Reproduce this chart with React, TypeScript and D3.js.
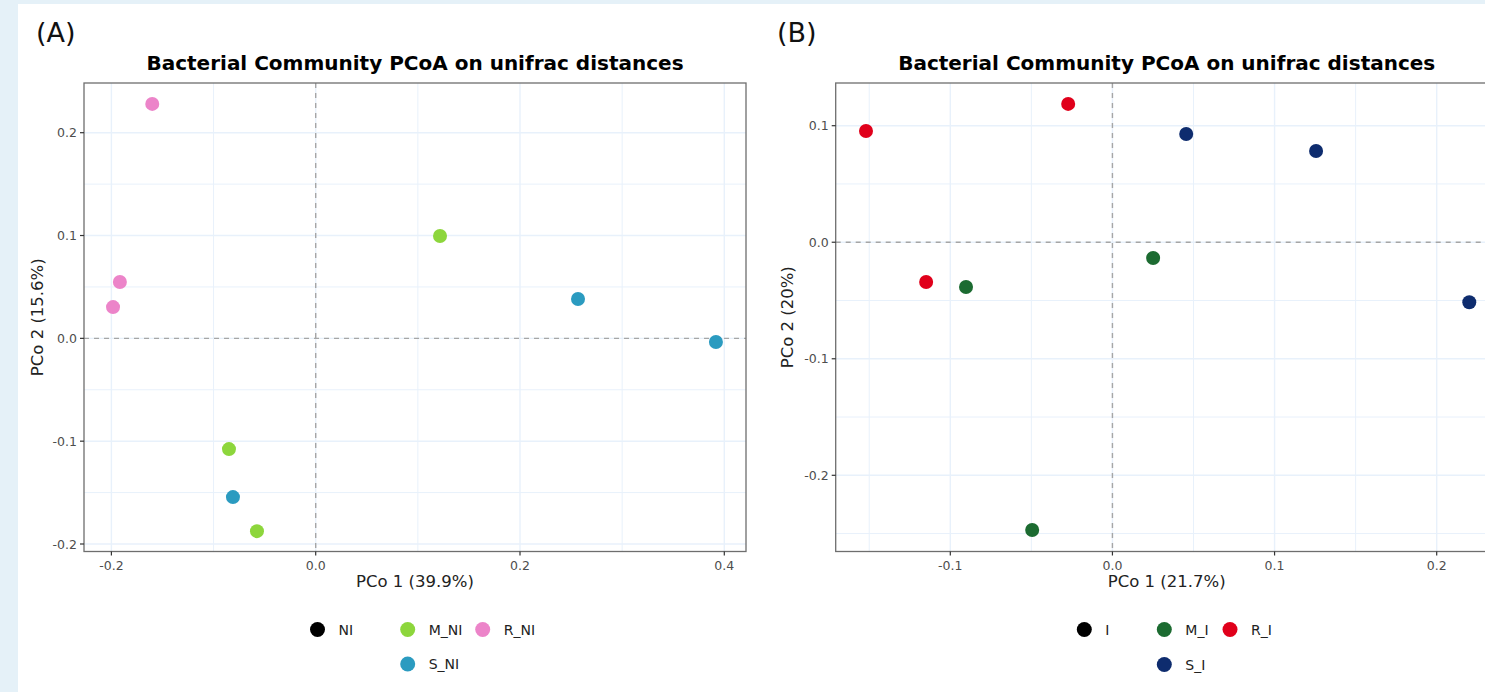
import React from "react";
import * as d3 from "d3";

// Panel A: non-inoculated samples
const groupsA = ["NI", "M_NI", "R_NI", "S_NI"];
const colorsA = ["#000000", "#8dd63c", "#ec84c9", "#2b9bc0"];
const pointsA_x = [-0.160, -0.1917, -0.1984, 0.1217, -0.0849, -0.0575, 0.2568, 0.3918, -0.0810];
const pointsA_y = [0.228, 0.0548, 0.0304, 0.0996, -0.1077, -0.1875, 0.0383, -0.0036, -0.1544];
const pointsA_g = ["R_NI", "R_NI", "R_NI", "M_NI", "M_NI", "M_NI", "S_NI", "S_NI", "S_NI"];
const xTicksA = [-0.2, 0.0, 0.2, 0.4];
const yTicksA = [-0.2, -0.1, 0.0, 0.1, 0.2];
const xMinorA = [-0.1, 0.1, 0.3];
const yMinorA = [-0.15, -0.05, 0.05, 0.15];

// Panel B: inoculated samples
const groupsB = ["I", "M_I", "R_I", "S_I"];
const colorsB = ["#000000", "#1c6b31", "#e0001b", "#0e2c6e"];
const pointsB_x = [-0.152, -0.0273, -0.1149, -0.0903, 0.0251, -0.0495, 0.0455, 0.1256, 0.2201];
const pointsB_y = [0.0955, 0.1187, -0.0341, -0.0384, -0.0135, -0.2470, 0.0929, 0.0783, -0.0515];
const pointsB_g = ["R_I", "R_I", "R_I", "M_I", "M_I", "M_I", "S_I", "S_I", "S_I"];
const xTicksB = [-0.1, 0.0, 0.1, 0.2];
const yTicksB = [-0.2, -0.1, 0.0, 0.1];
const xMinorB = [-0.15, -0.05, 0.05, 0.15];
const yMinorB = [-0.25, -0.15, -0.05, 0.05];

const title = "Bacterial Community PCoA on unifrac distances";
const FONT = "'DejaVu Sans', Verdana, sans-serif";

type PanelProps = {
  tag: string;
  tagX: number;
  left: number;
  top: number;
  width: number;
  height: number;
  xDomain: [number, number];
  yDomain: [number, number];
  xTicks: number[];
  yTicks: number[];
  xMinor: number[];
  yMinor: number[];
  xs: number[];
  ys: number[];
  gs: string[];
  groups: string[];
  colors: string[];
  xLabel: string;
  yLabel: string;
  yLabelX: number;
  legendPos: { cx: number; cy: number }[];
};

// ggplot-style labels use a plain hyphen for negatives
const fmt = (v: number) => d3.format(".1f")(v).replace("\u2212", "-");

function Panel(p: PanelProps) {
  const x = d3.scaleLinear().domain(p.xDomain).range([p.left, p.left + p.width]);
  const y = d3.scaleLinear().domain(p.yDomain).range([p.top + p.height, p.top]);
  const color = d3.scaleOrdinal<string, string>().domain(p.groups).range(p.colors);
  const bottom = p.top + p.height;
  const right = p.left + p.width;
  const cx = p.left + p.width / 2;
  const grid = "#e8f1fb";
  const clipId = "clip-" + p.tag.replace(/[()]/g, "");
  return (
    <g>
      <text x={p.tagX} y={42} fontFamily={FONT} fontSize={27} fill="#111">
        {p.tag}
      </text>
      <text x={cx} y={70} textAnchor="middle" fontFamily={FONT} fontWeight="bold" fontSize={20} fill="#000">
        {title}
      </text>
      <defs>
        <clipPath id={clipId}>
          <rect x={p.left} y={p.top} width={p.width} height={p.height} />
        </clipPath>
      </defs>
      <rect x={p.left} y={p.top} width={p.width} height={p.height} fill="#fff" />
      <g clipPath={`url(#${clipId})`}>
        {p.xMinor.map((v) => (
          <line key={"xm" + v} x1={x(v)} x2={x(v)} y1={p.top} y2={bottom} stroke={grid} strokeWidth={1} />
        ))}
        {p.yMinor.map((v) => (
          <line key={"ym" + v} x1={p.left} x2={right} y1={y(v)} y2={y(v)} stroke={grid} strokeWidth={1} />
        ))}
        {p.xTicks.map((v) => (
          <line key={"xg" + v} x1={x(v)} x2={x(v)} y1={p.top} y2={bottom} stroke={grid} strokeWidth={1.4} />
        ))}
        {p.yTicks.map((v) => (
          <line key={"yg" + v} x1={p.left} x2={right} y1={y(v)} y2={y(v)} stroke={grid} strokeWidth={1.4} />
        ))}
        <line x1={x(0)} x2={x(0)} y1={p.top} y2={bottom} stroke="#a6a6a6" strokeWidth={1.4} strokeDasharray="5,5" />
        <line x1={p.left} x2={right} y1={y(0)} y2={y(0)} stroke="#a6a6a6" strokeWidth={1.4} strokeDasharray="5,5" />
        {p.xs.map((v, i) => (
          <circle key={"pt" + i} cx={x(v)} cy={y(p.ys[i])} r={7} fill={color(p.gs[i])} />
        ))}
      </g>
      <rect x={p.left} y={p.top} width={p.width} height={p.height} fill="none" stroke="#6e6e6e" strokeWidth={1.3} />
      {p.xTicks.map((v) => (
        <g key={"xt" + v}>
          <line x1={x(v)} x2={x(v)} y1={bottom} y2={bottom + 4} stroke="#333" strokeWidth={1.2} />
          <text x={x(v)} y={bottom + 18} textAnchor="middle" fontFamily={FONT} fontSize={12.5} fill="#4d4d4d">
            {fmt(v)}
          </text>
        </g>
      ))}
      {p.yTicks.map((v) => (
        <g key={"yt" + v}>
          <line x1={p.left - 4} x2={p.left} y1={y(v)} y2={y(v)} stroke="#333" strokeWidth={1.2} />
          <text x={p.left - 7} y={y(v) + 4.5} textAnchor="end" fontFamily={FONT} fontSize={12.5} fill="#4d4d4d">
            {fmt(v)}
          </text>
        </g>
      ))}
      <text x={cx} y={587} textAnchor="middle" fontFamily={FONT} fontSize={16.5} fill="#222">
        {p.xLabel}
      </text>
      <text
        transform={`translate(${p.yLabelX},${p.top + p.height / 2}) rotate(-90)`}
        textAnchor="middle"
        fontFamily={FONT}
        fontSize={16.5}
        fill="#222"
      >
        {p.yLabel}
      </text>
      {p.groups.map((g, i) => (
        <g key={"lg" + g}>
          <circle cx={p.legendPos[i].cx} cy={p.legendPos[i].cy} r={7.5} fill={color(g)} />
          <text x={p.legendPos[i].cx + 21} y={p.legendPos[i].cy + 5} fontFamily={FONT} fontSize={14} fill="#222">
            {g}
          </text>
        </g>
      ))}
    </g>
  );
}

export default function App() {
  // shared plot geometry, in page pixels
  const top = 83;
  const height = 468.5;
  const width = 662;

  // Panel A: tick positions in page pixels
  const axA = d3.scaleLinear().domain([-0.2, 0.4]).range([111.4, 724.3]);
  const ayA = d3.scaleLinear().domain([-0.2, 0.2]).range([544, 132.7]);
  const xDomA: [number, number] = [axA.invert(84), axA.invert(84 + width)];
  const yDomA: [number, number] = [ayA.invert(top + height), ayA.invert(top)];

  // Panel B
  const axB = d3.scaleLinear().domain([-0.1, 0.2]).range([950.3, 1436.7]);
  const ayB = d3.scaleLinear().domain([-0.2, 0.1]).range([475.3, 125.7]);
  const leftB = 835.7;
  const xDomB: [number, number] = [axB.invert(leftB), axB.invert(leftB + width)];
  const yDomB: [number, number] = [ayB.invert(top + height), ayB.invert(top)];

  return (
    <svg
      width={1485}
      height={692}
      style={{ position: "fixed", left: 0, top: 0, display: "block" }}
    >
      <rect x={0} y={0} width={1485} height={692} fill="#e5f1f8" />
      <rect x={18} y={4} width={1467} height={688} fill="#ffffff" />
      <Panel
        tag="(A)"
        tagX={36}
        left={84}
        top={top}
        width={width}
        height={height}
        xDomain={xDomA}
        yDomain={yDomA}
        xTicks={xTicksA}
        yTicks={yTicksA}
        xMinor={xMinorA}
        yMinor={yMinorA}
        xs={pointsA_x}
        ys={pointsA_y}
        gs={pointsA_g}
        groups={groupsA}
        colors={colorsA}
        xLabel="PCo 1 (39.9%)"
        yLabel="PCo 2 (15.6%)"
        yLabelX={43}
        legendPos={[
          { cx: 317.5, cy: 629.5 },
          { cx: 407.7, cy: 629.5 },
          { cx: 482.7, cy: 629.5 },
          { cx: 407.7, cy: 664 },
        ]}
      />
      <Panel
        tag="(B)"
        tagX={777}
        left={leftB}
        top={top}
        width={width}
        height={height}
        xDomain={xDomB}
        yDomain={yDomB}
        xTicks={xTicksB}
        yTicks={yTicksB}
        xMinor={xMinorB}
        yMinor={yMinorB}
        xs={pointsB_x}
        ys={pointsB_y}
        gs={pointsB_g}
        groups={groupsB}
        colors={colorsB}
        xLabel="PCo 1 (21.7%)"
        yLabel="PCo 2 (20%)"
        yLabelX={793}
        legendPos={[
          { cx: 1084.3, cy: 629.5 },
          { cx: 1164.3, cy: 629.5 },
          { cx: 1230, cy: 629.5 },
          { cx: 1164.3, cy: 664.5 },
        ]}
      />
    </svg>
  );
}
